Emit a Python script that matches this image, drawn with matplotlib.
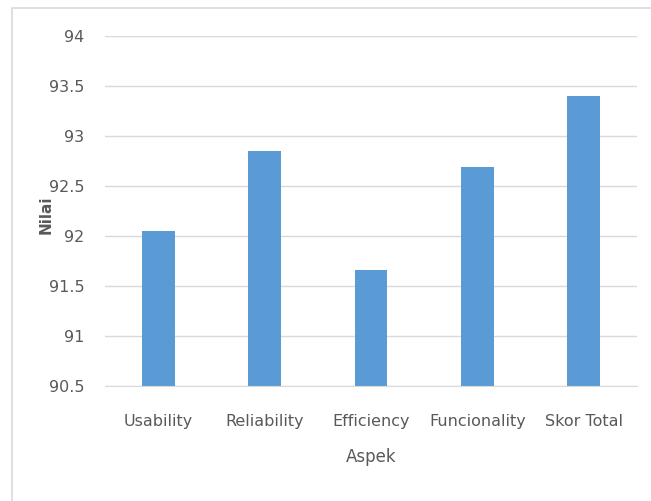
import matplotlib
matplotlib.use("Agg")
import matplotlib.pyplot as plt
from matplotlib.patches import Rectangle

# data
aspek = ["Usability", "Reliability", "Efficiency", "Funcionality", "Skor Total"]
nilai = [92.05, 92.85, 91.66, 92.69, 93.40]
yticks = [90.5, 91, 91.5, 92, 92.5, 93, 93.5, 94]

plt.rcParams["font.family"] = ["Liberation Sans Narrow", "DejaVu Sans"]

text_col = "#595959"
fig = plt.figure(figsize=(6.51, 5.01), dpi=100)
ax = fig.add_axes([105 / 651, 1 - 386 / 501, 532 / 651, 350 / 501])

ax.bar(range(len(aspek)), nilai, width=0.31, color="#5B9BD5", bottom=0)
ax.set_ylim(90.5, 94)
ax.set_xlim(-0.5, len(aspek) - 0.5)
ax.set_yticks(yticks)
ax.set_yticklabels([f"{v:g}" for v in yticks])
ax.set_xticks(range(len(aspek)))
ax.set_xticklabels(aspek)
ax.yaxis.grid(True, color="#d9d9d9", linewidth=1)
ax.set_axisbelow(True)
for s in ["top", "right", "left"]:
    ax.spines[s].set_visible(False)
ax.spines["bottom"].set_color("#d9d9d9")
ax.tick_params(length=0, labelsize=11.5, colors=text_col)
ax.tick_params(axis="y", pad=15)
ax.tick_params(axis="x", pad=20)

ax.set_xlabel("Aspek", fontsize=12, color=text_col, labelpad=14)
fig.text(46 / 651, 1 - 215 / 501, "Nilai", rotation=90, fontsize=11,
         fontweight="bold", color=text_col, ha="center", va="center",
         family="DejaVu Sans")

# light frame around the chart area
fig.patches.append(Rectangle((12 / 651, -0.01), 1.0, 1 - 8 / 501 + 0.01,
                             transform=fig.transFigure, fill=False,
                             edgecolor="#d9d9d9", linewidth=1.2))

fig.savefig("out.png", dpi=100)
